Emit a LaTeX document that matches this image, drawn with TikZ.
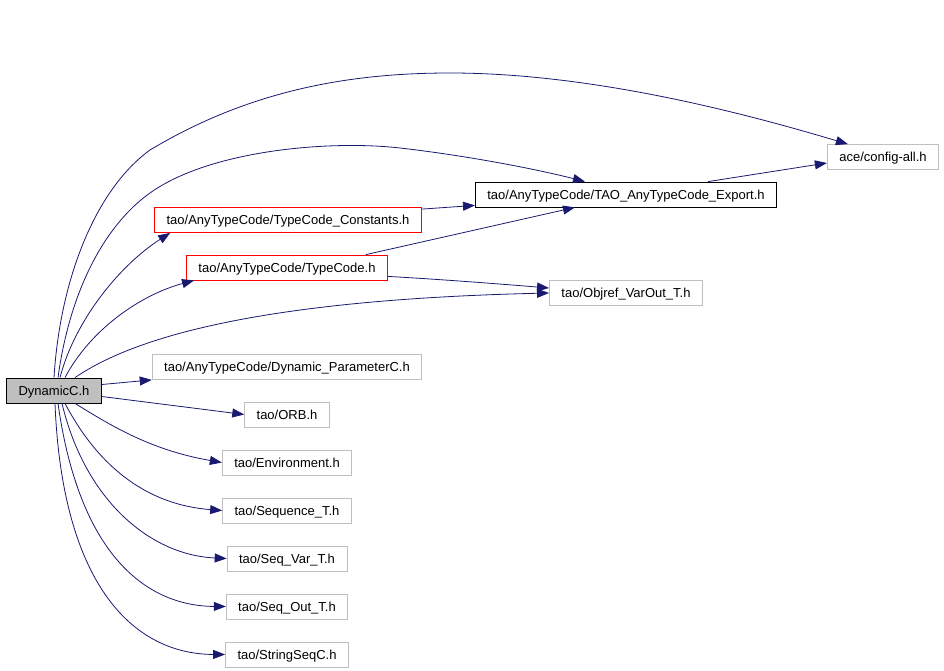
\documentclass[tikz,border=0pt]{standalone}
\usepackage{fontspec}
\setmainfont{Liberation Sans}
\usetikzlibrary{arrows.meta,calc}
\definecolor{incl}{HTML}{191970}

\begin{document}
\begin{tikzpicture}[x=1pt,y=-1pt,
	file/.style={draw=black!25,line width=0.8pt,inner xsep=12pt,inner ysep=0pt,
		text height=9.5pt,text depth=0pt,minimum height=25pt,font=\fontsize{13}{15}\selectfont},
	main/.style={file,draw=black,fill=black!25},
	local/.style={file,draw=red},
	plain/.style={file,draw=black},
	dep/.style={draw=incl,line width=0.8pt,-{Triangle[length=12pt,width=9pt]}}]
	\useasboundingbox (0,0) rectangle (944,671);
	\node[main] (dyn) at (54,390.5) {DynamicC.h};
	\node[file] (cfg) at (883,157) {ace/config-all.h};
	\node[plain] (exp) at (626,194.5) {tao/AnyTypeCode/TAO\_AnyTypeCode\_Export.h};
	\node[local] (tcc) at (288,220) {tao/AnyTypeCode/TypeCode\_Constants.h};
	\node[local] (tc) at (287,267.5) {tao/AnyTypeCode/TypeCode.h};
	\node[file] (obj) at (626,293) {tao/Objref\_VarOut\_T.h};
	\node[file] (dpc) at (287,367) {tao/AnyTypeCode/Dynamic\_ParameterC.h};
	\node[file] (orb) at (287,414.5) {tao/ORB.h};
	\node[file] (env) at (287,462.5) {tao/Environment.h};
	\node[file] (seq) at (287,510.5) {tao/Sequence\_T.h};
	\node[file] (svar) at (287,558.5) {tao/Seq\_Var\_T.h};
	\node[file] (sout) at (287,606.5) {tao/Seq\_Out\_T.h};
	\node[file] (sseq) at (287,654.5) {tao/StringSeqC.h};
	% upward
	\draw[dep] (dyn.north) .. controls (60,280) and (95,190) .. (150,150)
		.. controls (250,90) and (350,73) .. (450,73)
		.. controls (600,73) and (760,118) .. ([xshift=21pt]cfg.north west);
	\draw[dep] ([xshift=4pt]dyn.north) .. controls (70,290) and (105,225) .. (150,193)
		.. controls (210,150) and (330,140) .. (400,148)
		.. controls (470,156) and (540,170) .. ([xshift=110pt]exp.north west);
	\draw[dep] ([xshift=6pt]dyn.north) .. controls (75,320) and (120,265) .. ([xshift=16pt]tcc.south west);
	\draw[dep] ([xshift=11pt]dyn.north) .. controls (90,330) and (140,295) .. ([xshift=8pt]tc.south west);
	\draw[dep] ([xshift=21pt]dyn.north) .. controls (130,340) and (250,300) .. (obj.west);
	\draw[dep] ([yshift=6pt]dyn.east) -- (dpc.south west);
	\draw[dep] ([yshift=-6pt]dyn.east) -- (orb.west);
	% downward
	\draw[dep] ([xshift=21pt]dyn.south) .. controls (110,425) and (150,450) .. (env.west);
	\draw[dep] ([xshift=11pt]dyn.south) .. controls (100,470) and (150,505) .. (seq.west);
	\draw[dep] ([xshift=8pt]dyn.south) .. controls (85,500) and (150,555) .. (svar.west);
	\draw[dep] ([xshift=4pt]dyn.south) .. controls (80,560) and (150,606) .. (sout.west);
	\draw[dep] ([xshift=1pt]dyn.south) .. controls (62,580) and (130,654) .. (sseq.west);
	% second level
	\draw[dep] ([yshift=-2pt]tcc.north east) -- ([yshift=2pt]exp.south west);
	\draw[dep] ([xshift=-22pt]tc.north east) -- ([xshift=100pt]exp.south west);
	\draw[dep] ([yshift=4pt]tc.south east) .. controls (450,280) and (500,284) .. ([yshift=5pt]obj.west);
	\draw[dep] ([xshift=-69pt]exp.north east) -- ([yshift=-6pt]cfg.west);
\end{tikzpicture}
\end{document}
